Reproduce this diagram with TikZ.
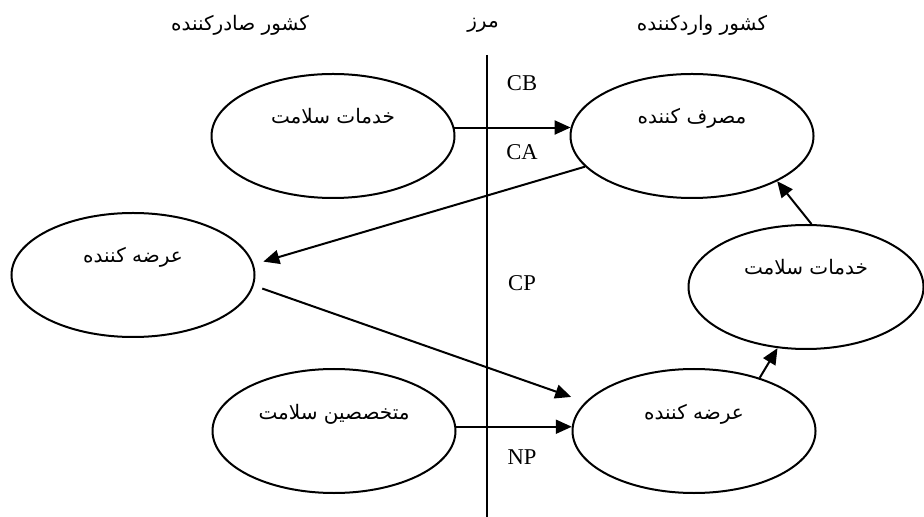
\documentclass[tikz,border=0pt]{standalone}
\usepackage{fontspec}
\setmainfont{Liberation Serif}
\newfontfamily\farsi[Script=Arabic]{DejaVu Sans}
\TeXXeTstate=1
\usetikzlibrary{shapes.geometric,arrows.meta}

\newcommand{\fa}[1]{{\farsi\beginR #1\endR}}

\tikzstyle{oval}=[shape=ellipse,draw,line width=1pt,minimum width=121.5pt,minimum height=62pt,inner sep=0pt,text height=6pt,text depth=18pt,font=\fontsize{10}{12}\selectfont]
\tikzstyle{flow}=[-{Triangle[length=8pt,width=7pt]},line width=1pt]
\tikzstyle{colhead}=[font=\fontsize{10}{12}\selectfont]
\tikzstyle{tradelabel}=[font=\fontsize{11.3}{13}\selectfont]

\begin{document}
\begin{tikzpicture}[x=0.5pt,y=-0.5pt]
\useasboundingbox (0,0) rectangle (924,517);
% column headings
\node[colhead] (h_exp)    at (240,25) {\fa{کشور صادرکننده}};
\node[colhead] (h_border) at (483,25) {\fa{مرز}};
\node[colhead] (h_imp)    at (702,25) {\fa{کشور واردکننده}};
% border line
\coordinate (b_top) at (487,55);
\coordinate (b_bot) at (487,517);
\draw[line width=1pt] (b_top) -- (b_bot);
% exporting country
\node[oval] (hs_exp)  at (333,136) {\fa{خدمات سلامت}};
\node[oval] (sup_exp) at (133,275) {\fa{عرضه کننده}};
\node[oval] (pro_exp) at (334,431) {\fa{متخصصین سلامت}};
% importing country
\node[oval] (con_imp) at (692,136) {\fa{مصرف کننده}};
\node[oval,minimum width=117.5pt] (hs_imp) at (806,287) {\fa{خدمات سلامت}};
\node[oval] (sup_imp) at (694,431) {\fa{عرضه کننده}};
% trade modes
\node[tradelabel] (cb) at (522,83)  {CB};
\node[tradelabel] (ca) at (522,152) {CA};
\node[tradelabel] (cp) at (522,283) {CP};
\node[tradelabel] (np) at (522,457) {NP};
% flows
\draw[flow] (hs_exp.4) -- (con_imp.176);
\draw[flow,shorten >=5pt] (con_imp.196) -- (sup_exp.5);
\draw[flow,shorten <=4.5pt,shorten >=7.5pt] (sup_exp.355) -- (sup_imp.165);
\draw[flow] (pro_exp.2) -- (sup_imp.178);
\draw[flow] (sup_imp.39) -- (hs_imp.245);
\draw[flow] (hs_imp.85) -- (con_imp.332);
\end{tikzpicture}
\end{document}
